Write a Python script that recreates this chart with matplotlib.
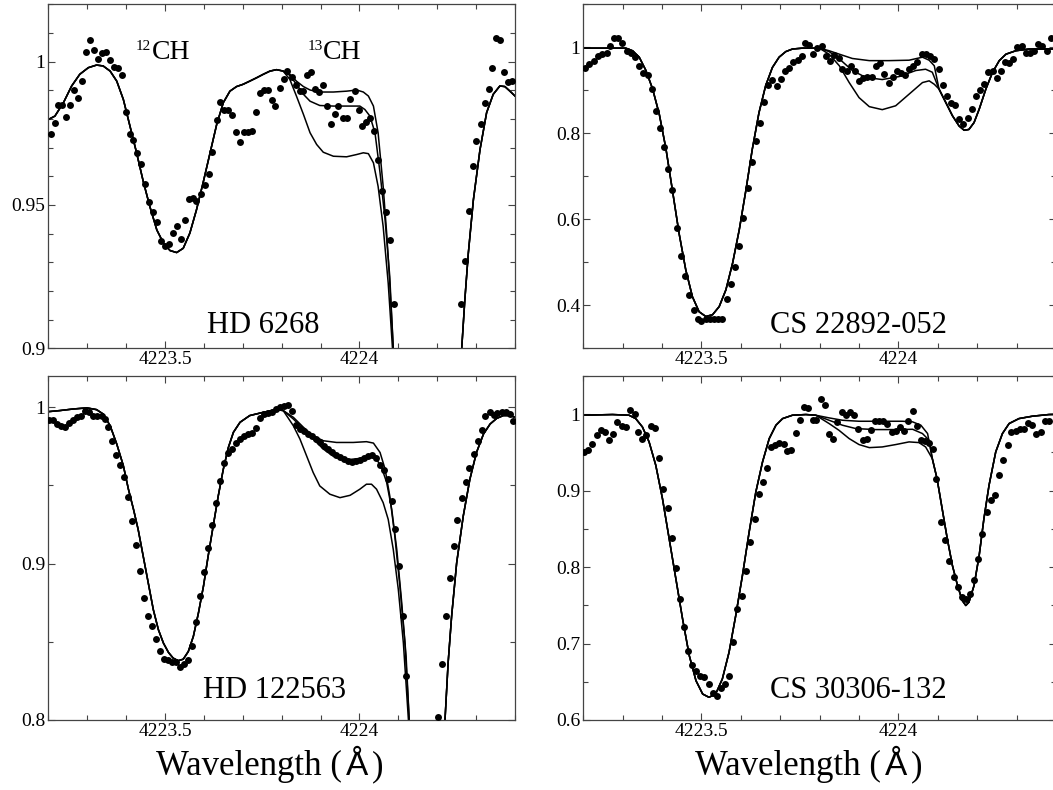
import matplotlib
matplotlib.use("Agg")
import matplotlib.pyplot as plt
import numpy as np
from matplotlib import transforms
from matplotlib.ticker import FixedLocator, FuncFormatter
from matplotlib.offsetbox import TextArea, HPacker, AnnotationBbox

SERIF = "Liberation Serif"
SANS = "Liberation Sans"

# ---------------- HD 6268 ----------------
hd6268_obs_wl = [4223.206, 4223.217, 4223.226, 4223.235, 4223.245, 4223.257, 4223.266, 4223.277, 4223.287, 4223.297,
                 4223.307, 4223.317, 4223.328, 4223.338, 4223.348, 4223.359, 4223.368, 4223.378, 4223.389,
                 4223.399, 4223.409, 4223.419, 4223.429, 4223.439, 4223.449, 4223.460, 4223.470, 4223.480, 4223.491,
                 4223.501, 4223.511, 4223.521, 4223.531, 4223.541, 4223.551, 4223.561, 4223.571, 4223.581, 4223.592,
                 4223.602, 4223.612, 4223.622, 4223.633, 4223.641, 4223.652, 4223.663, 4223.673, 4223.683, 4223.694,
                 4223.704, 4223.714, 4223.724, 4223.734, 4223.744, 4223.754, 4223.765, 4223.774, 4223.784, 4223.795,
                 4223.805, 4223.815, 4223.826, 4223.836, 4223.846, 4223.856, 4223.866, 4223.876, 4223.886, 4223.896,
                 4223.906, 4223.916, 4223.926, 4223.936, 4223.946, 4223.957, 4223.967, 4223.977, 4223.988, 4223.998,
                 4224.007, 4224.018, 4224.028, 4224.038, 4224.048, 4224.058, 4224.068, 4224.078, 4224.089,
                 4224.260, 4224.271, 4224.281, 4224.291, 4224.301, 4224.312, 4224.322, 4224.332, 4224.342, 4224.351,
                 4224.361, 4224.372, 4224.383, 4224.393]
hd6268_obs_flux = [0.9748, 0.9787, 0.9848, 0.9848, 0.9808, 0.9847, 0.9900, 0.9874, 0.9932, 1.0034,
                   1.0075, 1.0041, 1.0008, 1.0031, 1.0034, 1.0006, 0.9983, 0.9979, 0.9953,
                   0.9825, 0.9748, 0.9726, 0.9682, 0.9642, 0.9574, 0.9510, 0.9475, 0.9439, 0.9375,
                   0.9358, 0.9365, 0.9402, 0.9425, 0.9382, 0.9448, 0.9521, 0.9523, 0.9515, 0.9538,
                   0.9570, 0.9608, 0.9685, 0.9796, 0.9860, 0.9833, 0.9830, 0.9813, 0.9754, 0.9720,
                   0.9755, 0.9755, 0.9759, 0.9825, 0.9889, 0.9901, 0.9901, 0.9866, 0.9845, 0.9907,
                   0.9941, 0.9967, 0.9948, 0.9917, 0.9897, 0.9897, 0.9953, 0.9965, 0.9903, 0.9894,
                   0.9917, 0.9845, 0.9781, 0.9816, 0.9845, 0.9804, 0.9804, 0.9871, 0.9897, 0.9833,
                   0.9777, 0.9789, 0.9804, 0.9757, 0.9658, 0.9548, 0.9475, 0.9379, 0.9155,
                   0.9155, 0.9306, 0.9480, 0.9635, 0.9722, 0.9784, 0.9854, 0.9903, 0.9979, 1.0082,
                   1.0076, 0.9965, 0.9929, 0.9932]
hd6268_fit_left_wl = [4223.200, 4223.217, 4223.239, 4223.260, 4223.281, 4223.303, 4223.324, 4223.341, 4223.359, 4223.376,
                      4223.393, 4223.410, 4223.427, 4223.444, 4223.461, 4223.479, 4223.496, 4223.513, 4223.530, 4223.547,
                      4223.564, 4223.581, 4223.599, 4223.616, 4223.633, 4223.650, 4223.667, 4223.684, 4223.701, 4223.718,
                      4223.736, 4223.753, 4223.770, 4223.787, 4223.804]
hd6268_fit_left_flux = [0.9798, 0.9810, 0.9857, 0.9915, 0.9956, 0.9979, 0.9988, 0.9985, 0.9967, 0.9932,
                        0.9868, 0.9775, 0.9682, 0.9583, 0.9495, 0.9413, 0.9367, 0.9341, 0.9334, 0.9349,
                        0.9402, 0.9483, 0.9583, 0.9682, 0.9781, 0.9857, 0.9897, 0.9913, 0.9921, 0.9932,
                        0.9944, 0.9956, 0.9967, 0.9972, 0.9967]
hd6268_fitA_wl = [4223.821, 4223.838, 4223.856, 4223.873, 4223.898, 4223.933, 4223.967, 4223.993, 4224.010, 4224.023,
                  4224.036, 4224.048, 4224.061, 4224.070, 4224.078, 4224.087]
hd6268_fitA_flux = [0.9956, 0.9932, 0.9913, 0.9901, 0.9894, 0.9894, 0.9897, 0.9901, 0.9894, 0.9880,
                    0.9845, 0.9752, 0.9565, 0.9402, 0.9227, 0.9000]
hd6268_fitB_wl = [4223.821, 4223.838, 4223.856, 4223.873, 4223.898, 4223.933, 4223.967, 4224.001, 4224.014, 4224.027,
                  4224.040, 4224.053, 4224.066, 4224.078, 4224.087]
hd6268_fitB_flux = [0.9952, 0.9921, 0.9886, 0.9862, 0.9847, 0.9845, 0.9845, 0.9845, 0.9833, 0.9810,
                    0.9752, 0.9612, 0.9448, 0.9250, 0.9000]
hd6268_fitC_wl = [4223.821, 4223.838, 4223.856, 4223.873, 4223.890, 4223.907, 4223.933, 4223.967, 4223.993, 4224.010,
                  4224.023, 4224.036, 4224.048, 4224.061, 4224.074, 4224.085]
hd6268_fitC_flux = [0.9938, 0.9880, 0.9816, 0.9752, 0.9711, 0.9684, 0.9670, 0.9668, 0.9676, 0.9682,
                    0.9679, 0.9647, 0.9565, 0.9425, 0.9227, 0.9000]
hd6268_fit_right_wl = [4224.100, 4224.170, 4224.250, 4224.263, 4224.271, 4224.280, 4224.293, 4224.310, 4224.327, 4224.344,
                       4224.361, 4224.374, 4224.387, 4224.400]
hd6268_fit_right_flux = [0.860, 0.550, 0.860, 0.9000, 0.9169, 0.9332, 0.9518, 0.9693, 0.9822, 0.9886,
                         0.9915, 0.9913, 0.9897, 0.9880]

# ---------------- CS 22892-052 ----------------
cs22892_obs_wl = [4223.205, 4223.215, 4223.226, 4223.237, 4223.247, 4223.259, 4223.268, 4223.278, 4223.289, 4223.299,
                  4223.310, 4223.320, 4223.331, 4223.342, 4223.352, 4223.363, 4223.374, 4223.384, 4223.395, 4223.405,
                  4223.416, 4223.426, 4223.437, 4223.448, 4223.459, 4223.469, 4223.480, 4223.490, 4223.500, 4223.511,
                  4223.521, 4223.532, 4223.543, 4223.553, 4223.564, 4223.574, 4223.585, 4223.596, 4223.606, 4223.617,
                  4223.627, 4223.638, 4223.648, 4223.659, 4223.669, 4223.680, 4223.691, 4223.701, 4223.712, 4223.722,
                  4223.733, 4223.744, 4223.754, 4223.763, 4223.773, 4223.783, 4223.794, 4223.805, 4223.816, 4223.827,
                  4223.837, 4223.848, 4223.858, 4223.869, 4223.879, 4223.890, 4223.900, 4223.911, 4223.921, 4223.932,
                  4223.942, 4223.953, 4223.964, 4223.975, 4223.985, 4223.996, 4224.006, 4224.017, 4224.027, 4224.038,
                  4224.048, 4224.059, 4224.069, 4224.080, 4224.091, 4224.103, 4224.112, 4224.123, 4224.133, 4224.144,
                  4224.154, 4224.165, 4224.176, 4224.186, 4224.196, 4224.207, 4224.217, 4224.228, 4224.239, 4224.250,
                  4224.261, 4224.271, 4224.281, 4224.292, 4224.302, 4224.313, 4224.323, 4224.334, 4224.344, 4224.355,
                  4224.365, 4224.376, 4224.387]
cs22892_obs_flux = [0.951, 0.961, 0.969, 0.979, 0.984, 0.986, 1.004, 1.021, 1.022, 1.009,
                    0.992, 0.987, 0.977, 0.957, 0.940, 0.935, 0.904, 0.852, 0.813, 0.767,
                    0.718, 0.668, 0.579, 0.515, 0.467, 0.424, 0.389, 0.367, 0.364, 0.368,
                    0.367, 0.367, 0.367, 0.367, 0.414, 0.450, 0.488, 0.539, 0.603, 0.672,
                    0.733, 0.782, 0.823, 0.873, 0.912, 0.924, 0.911, 0.926, 0.946, 0.953,
                    0.965, 0.971, 0.979, 1.009, 1.005, 0.984, 0.998, 1.002, 0.979, 0.969,
                    0.981, 0.975, 0.949, 0.944, 0.957, 0.946, 0.922, 0.928, 0.930, 0.930,
                    0.957, 0.963, 0.938, 0.918, 0.932, 0.944, 0.940, 0.936, 0.949, 0.957,
                    0.965, 0.984, 0.984, 0.979, 0.973, 0.949, 0.913, 0.887, 0.870, 0.865,
                    0.834, 0.821, 0.835, 0.856, 0.887, 0.901, 0.914, 0.943, 0.946, 0.928,
                    0.946, 0.965, 0.963, 0.973, 1.000, 1.004, 0.987, 0.987, 0.992, 1.008,
                    1.002, 0.992, 1.021]
cs22892_fit_left_wl = [4223.198, 4223.232, 4223.274, 4223.308, 4223.325, 4223.342, 4223.359, 4223.376, 4223.393, 4223.410,
                       4223.426, 4223.443, 4223.460, 4223.477, 4223.494, 4223.511, 4223.528, 4223.545, 4223.562, 4223.579,
                       4223.596, 4223.613, 4223.629, 4223.646, 4223.663, 4223.680, 4223.697, 4223.714, 4223.731, 4223.756,
                       4223.782, 4223.799]
cs22892_fit_left_flux = [0.998, 0.998, 0.998, 0.998, 0.992, 0.977, 0.946, 0.903, 0.844, 0.763,
                         0.669, 0.568, 0.483, 0.420, 0.385, 0.374, 0.378, 0.397, 0.436, 0.498,
                         0.576, 0.669, 0.763, 0.848, 0.911, 0.953, 0.977, 0.990, 0.996, 0.998,
                         0.998, 0.998]
cs22892_fitA_wl = [4223.824, 4223.850, 4223.883, 4223.926, 4223.976, 4224.027, 4224.061, 4224.078, 4224.091]
cs22892_fitA_flux = [0.992, 0.984, 0.974, 0.969, 0.969, 0.970, 0.977, 0.970, 0.957]
cs22892_fitB_wl = [4223.824, 4223.850, 4223.883, 4223.917, 4223.959, 4224.002, 4224.044, 4224.069, 4224.086]
cs22892_fitB_flux = [0.990, 0.973, 0.946, 0.930, 0.925, 0.932, 0.946, 0.949, 0.942]
cs22892_fitC_wl = [4223.824, 4223.850, 4223.875, 4223.900, 4223.926, 4223.959, 4223.993, 4224.027, 4224.061, 4224.078, 4224.091]
cs22892_fitC_flux = [0.984, 0.957, 0.918, 0.883, 0.862, 0.855, 0.864, 0.891, 0.918, 0.922, 0.914]
cs22892_fit_right_wl = [4224.103, 4224.120, 4224.137, 4224.154, 4224.167, 4224.179, 4224.192, 4224.205, 4224.222, 4224.239,
                        4224.256, 4224.273, 4224.298, 4224.332, 4224.366, 4224.400]
cs22892_fit_right_flux = [0.903, 0.872, 0.841, 0.817, 0.807, 0.809, 0.825, 0.856, 0.903, 0.942,
                          0.969, 0.984, 0.992, 0.996, 0.996, 0.996]

# ---------------- HD 122563 ----------------
hd122563_obs_wl = [4223.203, 4223.213, 4223.223, 4223.233, 4223.244, 4223.254, 4223.264, 4223.275, 4223.285, 4223.295,
                   4223.305, 4223.316, 4223.326, 4223.337, 4223.346, 4223.354, 4223.365, 4223.375, 4223.385, 4223.395,
                   4223.405, 4223.415, 4223.425, 4223.437, 4223.447, 4223.457, 4223.467, 4223.477, 4223.487, 4223.497,
                   4223.508, 4223.518, 4223.528, 4223.539, 4223.549, 4223.559, 4223.569, 4223.580, 4223.590, 4223.600,
                   4223.611, 4223.621, 4223.631, 4223.641, 4223.652, 4223.662, 4223.672, 4223.682, 4223.693, 4223.703,
                   4223.713, 4223.724, 4223.734, 4223.744, 4223.754, 4223.765, 4223.775, 4223.785, 4223.796, 4223.806,
                   4223.816, 4223.826, 4223.837, 4223.847, 4223.857, 4223.868, 4223.878, 4223.888, 4223.898, 4223.909,
                   4223.919, 4223.929, 4223.940, 4223.950, 4223.960, 4223.970, 4223.981, 4223.991, 4224.001, 4224.012,
                   4224.022, 4224.032, 4224.042, 4224.053, 4224.063, 4224.073, 4224.084, 4224.091, 4224.101, 4224.111,
                   4224.120, 4224.202, 4224.213, 4224.222, 4224.232, 4224.242, 4224.252, 4224.263, 4224.273, 4224.283,
                   4224.294, 4224.304, 4224.314, 4224.324, 4224.335, 4224.345, 4224.355, 4224.366, 4224.376, 4224.386,
                   4224.396]
hd122563_obs_flux = [0.9921, 0.9921, 0.9893, 0.9878, 0.9872, 0.9899, 0.9921, 0.9936, 0.9947, 0.9979,
                     0.9968, 0.9947, 0.9947, 0.9942, 0.9925, 0.9872, 0.9786, 0.9694, 0.9630, 0.9551,
                     0.9427, 0.9273, 0.9119, 0.8952, 0.8781, 0.8667, 0.8599, 0.8518, 0.8439, 0.8389,
                     0.8385, 0.8374, 0.8368, 0.8342, 0.8359, 0.8381, 0.8471, 0.8627, 0.8796, 0.8945,
                     0.9102, 0.9249, 0.9390, 0.9529, 0.9643, 0.9705, 0.9733, 0.9771, 0.9797, 0.9818,
                     0.9829, 0.9835, 0.9865, 0.9932, 0.9957, 0.9961, 0.9968, 0.9989, 1.0000, 1.0006,
                     1.0015, 0.9979, 0.9887, 0.9861, 0.9850, 0.9829, 0.9818, 0.9797, 0.9775, 0.9750,
                     0.9733, 0.9711, 0.9694, 0.9679, 0.9668, 0.9658, 0.9651, 0.9658, 0.9664, 0.9673,
                     0.9686, 0.9694, 0.9673, 0.9630, 0.9600, 0.9540, 0.9401, 0.9224, 0.8984, 0.8663,
                     0.8282, 0.8021, 0.8359, 0.8663, 0.8909, 0.9112, 0.9279, 0.9418, 0.9519, 0.9609,
                     0.9701, 0.9782, 0.9855, 0.9947, 0.9972, 0.9951, 0.9964, 0.9972, 0.9972, 0.9957,
                     0.9914]
hd122563_fit_left_wl = [4223.200, 4223.230, 4223.264, 4223.299, 4223.324, 4223.341, 4223.359, 4223.376, 4223.393, 4223.406,
                        4223.419, 4223.431, 4223.444, 4223.457, 4223.470, 4223.483, 4223.496, 4223.509, 4223.521, 4223.534,
                        4223.547, 4223.560, 4223.573, 4223.586, 4223.599, 4223.611, 4223.624, 4223.637, 4223.650, 4223.663,
                        4223.676, 4223.693, 4223.718, 4223.753, 4223.787, 4223.804]
hd122563_fit_left_flux = [0.9972, 0.9979, 0.9989, 0.9996, 0.9985, 0.9957, 0.9882, 0.9765, 0.9626, 0.9476,
                          0.9348, 0.9219, 0.9048, 0.8877, 0.8706, 0.8578, 0.8492, 0.8432, 0.8396, 0.8379,
                          0.8389, 0.8438, 0.8535, 0.8684, 0.8856, 0.9048, 0.9241, 0.9433, 0.9604, 0.9743,
                          0.9840, 0.9904, 0.9947, 0.9968, 0.9985, 0.9979]
hd122563_fitA_wl = [4223.830, 4223.856, 4223.881, 4223.907, 4223.941, 4223.984, 4224.018, 4224.036, 4224.053, 4224.066,
                    4224.078, 4224.091, 4224.104, 4224.117, 4224.128]
hd122563_fitA_flux = [0.9936, 0.9872, 0.9818, 0.9786, 0.9775, 0.9775, 0.9780, 0.9771, 0.9711, 0.9604,
                      0.9433, 0.9176, 0.8856, 0.8492, 0.8000]
hd122563_fitB_wl = [4223.830, 4223.856, 4223.881, 4223.907, 4223.933, 4223.967, 4224.001, 4224.027, 4224.044, 4224.057,
                    4224.070, 4224.083, 4224.096, 4224.108, 4224.120, 4224.128]
hd122563_fitB_flux = [0.9925, 0.9861, 0.9797, 0.9733, 0.9686, 0.9664, 0.9673, 0.9694, 0.9668, 0.9615,
                      0.9519, 0.9348, 0.9091, 0.8770, 0.8406, 0.8000]
hd122563_fitC_wl = [4223.830, 4223.847, 4223.864, 4223.881, 4223.898, 4223.924, 4223.950, 4223.976, 4224.001, 4224.018,
                    4224.031, 4224.044, 4224.061, 4224.074, 4224.087, 4224.100, 4224.113, 4224.126]
hd122563_fitC_flux = [0.9882, 0.9797, 0.9690, 0.9583, 0.9497, 0.9444, 0.9422, 0.9437, 0.9476, 0.9508,
                      0.9508, 0.9476, 0.9390, 0.9283, 0.9091, 0.8834, 0.8492, 0.8000]
hd122563_fit_right_wl = [4224.140, 4224.170, 4224.205, 4224.220, 4224.228, 4224.237, 4224.250, 4224.267, 4224.284, 4224.301,
                         4224.319, 4224.336, 4224.353, 4224.370, 4224.387, 4224.400]
hd122563_fit_right_flux = [0.750, 0.600, 0.750, 0.800, 0.8364, 0.8663, 0.9005, 0.9305, 0.9540, 0.9711,
                           0.9829, 0.9893, 0.9929, 0.9947, 0.9947, 0.9936]

# ---------------- CS 30306-132 ----------------
cs30306_obs_wl = [4223.202, 4223.213, 4223.223, 4223.234, 4223.245, 4223.256, 4223.266, 4223.276, 4223.286, 4223.297,
                  4223.308, 4223.318, 4223.330, 4223.340, 4223.350, 4223.360, 4223.371, 4223.382, 4223.393, 4223.403,
                  4223.414, 4223.425, 4223.435, 4223.445, 4223.455, 4223.465, 4223.475, 4223.486, 4223.496, 4223.506,
                  4223.518, 4223.528, 4223.539, 4223.550, 4223.560, 4223.570, 4223.580, 4223.591, 4223.602, 4223.613,
                  4223.624, 4223.635, 4223.645, 4223.655, 4223.667, 4223.677, 4223.687, 4223.697, 4223.709, 4223.717,
                  4223.728, 4223.739, 4223.750, 4223.760, 4223.771, 4223.782, 4223.792, 4223.803, 4223.813, 4223.824,
                  4223.834, 4223.845, 4223.856, 4223.866, 4223.876, 4223.887, 4223.898, 4223.909, 4223.920, 4223.930,
                  4223.941, 4223.951, 4223.961, 4223.972, 4223.983, 4223.993, 4224.003, 4224.014, 4224.025, 4224.036,
                  4224.046, 4224.057, 4224.067, 4224.078, 4224.088, 4224.096, 4224.107, 4224.118, 4224.129, 4224.140,
                  4224.151, 4224.161, 4224.171, 4224.181, 4224.192, 4224.203, 4224.213, 4224.224, 4224.234, 4224.245,
                  4224.255, 4224.266, 4224.277, 4224.287, 4224.298, 4224.308, 4224.319, 4224.329, 4224.340, 4224.350,
                  4224.361, 4224.371, 4224.382]
cs30306_obs_flux = [0.9507, 0.9528, 0.9616, 0.9725, 0.9799, 0.9769, 0.9668, 0.9747, 0.9900, 0.9847,
                    0.9834, 1.0052, 1.0009, 0.9769, 0.9681, 0.9734, 0.9847, 0.9821, 0.9428, 0.9026,
                    0.8773, 0.8380, 0.7987, 0.7585, 0.7223, 0.6908, 0.6720, 0.6646, 0.6581, 0.6559,
                    0.6471, 0.6354, 0.6319, 0.6415, 0.6471, 0.6572, 0.7026, 0.7454, 0.7616, 0.7943,
                    0.8327, 0.8633, 0.8961, 0.9114, 0.9301, 0.9572, 0.9603, 0.9629, 0.9616, 0.9515,
                    0.9528, 0.9760, 0.9921, 1.0096, 1.0083, 0.9921, 0.9921, 1.0197, 1.0118, 0.9747,
                    0.9681, 0.9900, 1.0031, 0.9987, 1.0031, 0.9987, 0.9812, 0.9659, 0.9672, 0.9799,
                    0.9908, 0.9908, 0.9908, 0.9878, 0.9769, 0.9782, 0.9834, 0.9777, 0.9908, 1.0039,
                    0.9843, 0.9659, 0.9646, 0.9629, 0.9550, 0.9157, 0.8589, 0.8349, 0.8074, 0.7869,
                    0.7738, 0.7607, 0.7585, 0.7651, 0.7825, 0.8100, 0.8437, 0.8720, 0.8873, 0.8939,
                    0.9201, 0.9397, 0.9594, 0.9769, 0.9777, 0.9812, 0.9812, 0.9886, 0.9856, 0.9747,
                    0.9769, 0.9908, 0.9908]
cs30306_fit_left_wl = [4223.198, 4223.274, 4223.316, 4223.333, 4223.350, 4223.367, 4223.384, 4223.401, 4223.418, 4223.435,
                       4223.452, 4223.469, 4223.486, 4223.503, 4223.519, 4223.536, 4223.553, 4223.570, 4223.587, 4223.604,
                       4223.621, 4223.638, 4223.655, 4223.672, 4223.689, 4223.706, 4223.731, 4223.765, 4223.790]
cs30306_fit_left_flux = [0.9987, 0.9996, 0.9987, 0.9943, 0.9834, 0.9638, 0.9332, 0.8895, 0.8371, 0.7847,
                         0.7323, 0.6843, 0.6515, 0.6340, 0.6297, 0.6340, 0.6537, 0.6886, 0.7367, 0.7891,
                         0.8458, 0.8983, 0.9376, 0.9681, 0.9856, 0.9943, 0.9987, 0.9996, 0.9987]
cs30306_fitA_wl = [4223.824, 4223.858, 4223.900, 4223.959, 4224.010, 4224.036, 4224.057, 4224.074]
cs30306_fitA_flux = [0.9952, 0.9921, 0.9908, 0.9908, 0.9908, 0.9900, 0.9856, 0.9747]
cs30306_fitB_wl = [4223.824, 4223.858, 4223.892, 4223.942, 4223.993, 4224.036, 4224.061, 4224.078]
cs30306_fitB_flux = [0.9921, 0.9856, 0.9812, 0.9799, 0.9799, 0.9803, 0.9747, 0.9659]
cs30306_fitC_wl = [4223.824, 4223.849, 4223.875, 4223.900, 4223.926, 4223.959, 4223.993, 4224.027, 4224.052, 4224.069]
cs30306_fitC_flux = [0.9878, 0.9790, 0.9681, 0.9603, 0.9563, 0.9572, 0.9603, 0.9638, 0.9629, 0.9572]
cs30306_fit_right_wl = [4224.086, 4224.098, 4224.111, 4224.124, 4224.137, 4224.150, 4224.162, 4224.171, 4224.179, 4224.192,
                        4224.205, 4224.217, 4224.230, 4224.247, 4224.264, 4224.281, 4224.306, 4224.340, 4224.382, 4224.400]
cs30306_fit_right_flux = [0.9419, 0.9157, 0.8764, 0.8371, 0.8022, 0.7760, 0.7563, 0.7498, 0.7541, 0.7760,
                          0.8153, 0.8633, 0.9070, 0.9507, 0.9747, 0.9878, 0.9943, 0.9974, 0.9996, 0.9998]

star_names = ["HD 6268", "CS 22892-052", "HD 122563", "CS 30306-132"]
x_major_ticks = [4223.5, 4224.0]
x_label_text = "Wavelength ("
x_label_unit = "Å"

W, H = 1053, 790
fig = plt.figure(figsize=(W / 100, H / 100), dpi=100)


def px_rect(left, top, right, bottom):
    return [left / W, 1 - bottom / H, (right - left) / W, (bottom - top) / H]


panels = [
    dict(rect=px_rect(48.3, 4.3, 515.0, 348.3), ylim=(0.9, 1.02), ymaj=[0.9, 0.95, 1.0], ystep=0.01,
         obs=(hd6268_obs_wl, hd6268_obs_flux),
         left=(hd6268_fit_left_wl, hd6268_fit_left_flux),
         mids=[(hd6268_fitA_wl, hd6268_fitA_flux), (hd6268_fitB_wl, hd6268_fitB_flux), (hd6268_fitC_wl, hd6268_fitC_flux)],
         right=(hd6268_fit_right_wl, hd6268_fit_right_flux),
         name=star_names[0], name_pos=(0.340, 0.044)),
    dict(rect=px_rect(583.3, 4.3, 1056.0, 348.3), ylim=(0.3, 1.1), ymaj=[0.4, 0.6, 0.8, 1.0], ystep=0.1,
         obs=(cs22892_obs_wl, cs22892_obs_flux),
         left=(cs22892_fit_left_wl, cs22892_fit_left_flux),
         mids=[(cs22892_fitA_wl, cs22892_fitA_flux), (cs22892_fitB_wl, cs22892_fitB_flux), (cs22892_fitC_wl, cs22892_fitC_flux)],
         right=(cs22892_fit_right_wl, cs22892_fit_right_flux),
         name=star_names[1], name_pos=(0.396, 0.044)),
    dict(rect=px_rect(48.3, 376.0, 515.0, 720.0), ylim=(0.8, 1.02), ymaj=[0.8, 0.9, 1.0], ystep=0.05,
         obs=(hd122563_obs_wl, hd122563_obs_flux),
         left=(hd122563_fit_left_wl, hd122563_fit_left_flux),
         mids=[(hd122563_fitA_wl, hd122563_fitA_flux), (hd122563_fitB_wl, hd122563_fitB_flux), (hd122563_fitC_wl, hd122563_fitC_flux)],
         right=(hd122563_fit_right_wl, hd122563_fit_right_flux),
         name=star_names[2], name_pos=(0.331, 0.063)),
    dict(rect=px_rect(583.3, 376.0, 1056.0, 720.0), ylim=(0.6, 1.05), ymaj=[0.6, 0.7, 0.8, 0.9, 1.0], ystep=0.05,
         obs=(cs30306_obs_wl, cs30306_obs_flux),
         left=(cs30306_fit_left_wl, cs30306_fit_left_flux),
         mids=[(cs30306_fitA_wl, cs30306_fitA_flux), (cs30306_fitB_wl, cs30306_fitB_flux), (cs30306_fitC_wl, cs30306_fitC_flux)],
         right=(cs30306_fit_right_wl, cs30306_fit_right_flux),
         name=star_names[3], name_pos=(0.396, 0.063)),
]

fmt = FuncFormatter(lambda v, p: "%g" % round(v, 4))
axes = []
for p in panels:
    ax = fig.add_axes(p["rect"])
    axes.append(ax)
    # model spectra (three 12C/13C ratios)
    for mw, mf in p["mids"]:
        wl = list(p["left"][0]) + list(mw) + list(p["right"][0])
        fl = list(p["left"][1]) + list(mf) + list(p["right"][1])
        ax.plot(wl, fl, color="black", lw=1.1, solid_joinstyle="round", zorder=2)
    # observed spectrum
    ax.plot(p["obs"][0], p["obs"][1], linestyle="none", marker="o", ms=5.0,
            mfc="black", mec="black", mew=0, zorder=3)
    ax.set_xlim(4223.2, 4224.4)
    ax.set_ylim(*p["ylim"])
    ax.xaxis.set_major_locator(FixedLocator(x_major_ticks))
    ax.xaxis.set_minor_locator(FixedLocator(np.round(np.arange(4223.2, 4224.41, 0.1), 2)))
    ax.yaxis.set_major_locator(FixedLocator(p["ymaj"]))
    y0, y1 = p["ylim"]
    ax.yaxis.set_minor_locator(FixedLocator(np.round(np.arange(y0, y1 + 1e-6, p["ystep"]), 3)))
    ax.xaxis.set_major_formatter(fmt)
    ax.yaxis.set_major_formatter(fmt)
    ax.tick_params(which="both", direction="in", top=True, right=True, width=0.8, color="#444444")
    ax.tick_params(which="major", length=4.8, pad=2.0, labelsize=14)
    ax.tick_params(which="minor", length=3.6)
    for lab in ax.get_xticklabels() + ax.get_yticklabels():
        lab.set_family(SERIF)
    for s in ax.spines.values():
        s.set_linewidth(0.9)
        s.set_color("#444444")
    ax.text(p["name_pos"][0], p["name_pos"][1], p["name"], transform=ax.transAxes,
            family=SERIF, fontsize=22, ha="left", va="baseline")


def isotope_label(ax, x, y, mass, base):
    ax.text(x, y, base, transform=ax.transAxes, family=SERIF, fontsize=20, ha="left", va="baseline")
    tr = transforms.offset_copy(ax.transAxes, fig=ax.figure, x=-0.5, y=9, units="dots")
    ax.text(x, y, mass, transform=tr, family=SERIF, fontsize=11, ha="right", va="baseline")


isotope_label(axes[0], 0.222, 0.841, "12", "CH")
isotope_label(axes[0], 0.589, 0.841, "13", "CH")


def wavelength_label(xc_px, yc_px):
    parts = [TextArea(x_label_text, textprops=dict(family=SERIF, size=25)),
             TextArea(x_label_unit, textprops=dict(family=SANS, size=24)),
             TextArea(")", textprops=dict(family=SERIF, size=25))]
    box = HPacker(children=parts, align="baseline", pad=0, sep=3)
    ab = AnnotationBbox(box, (xc_px / W, 1 - yc_px / H), xycoords="figure fraction",
                        frameon=False, box_alignment=(0.5, 0.5), pad=0)
    fig.add_artist(ab)


wavelength_label(269.5, 766.5)
wavelength_label(808.5, 766.5)

fig.savefig("out.png", dpi=100)
